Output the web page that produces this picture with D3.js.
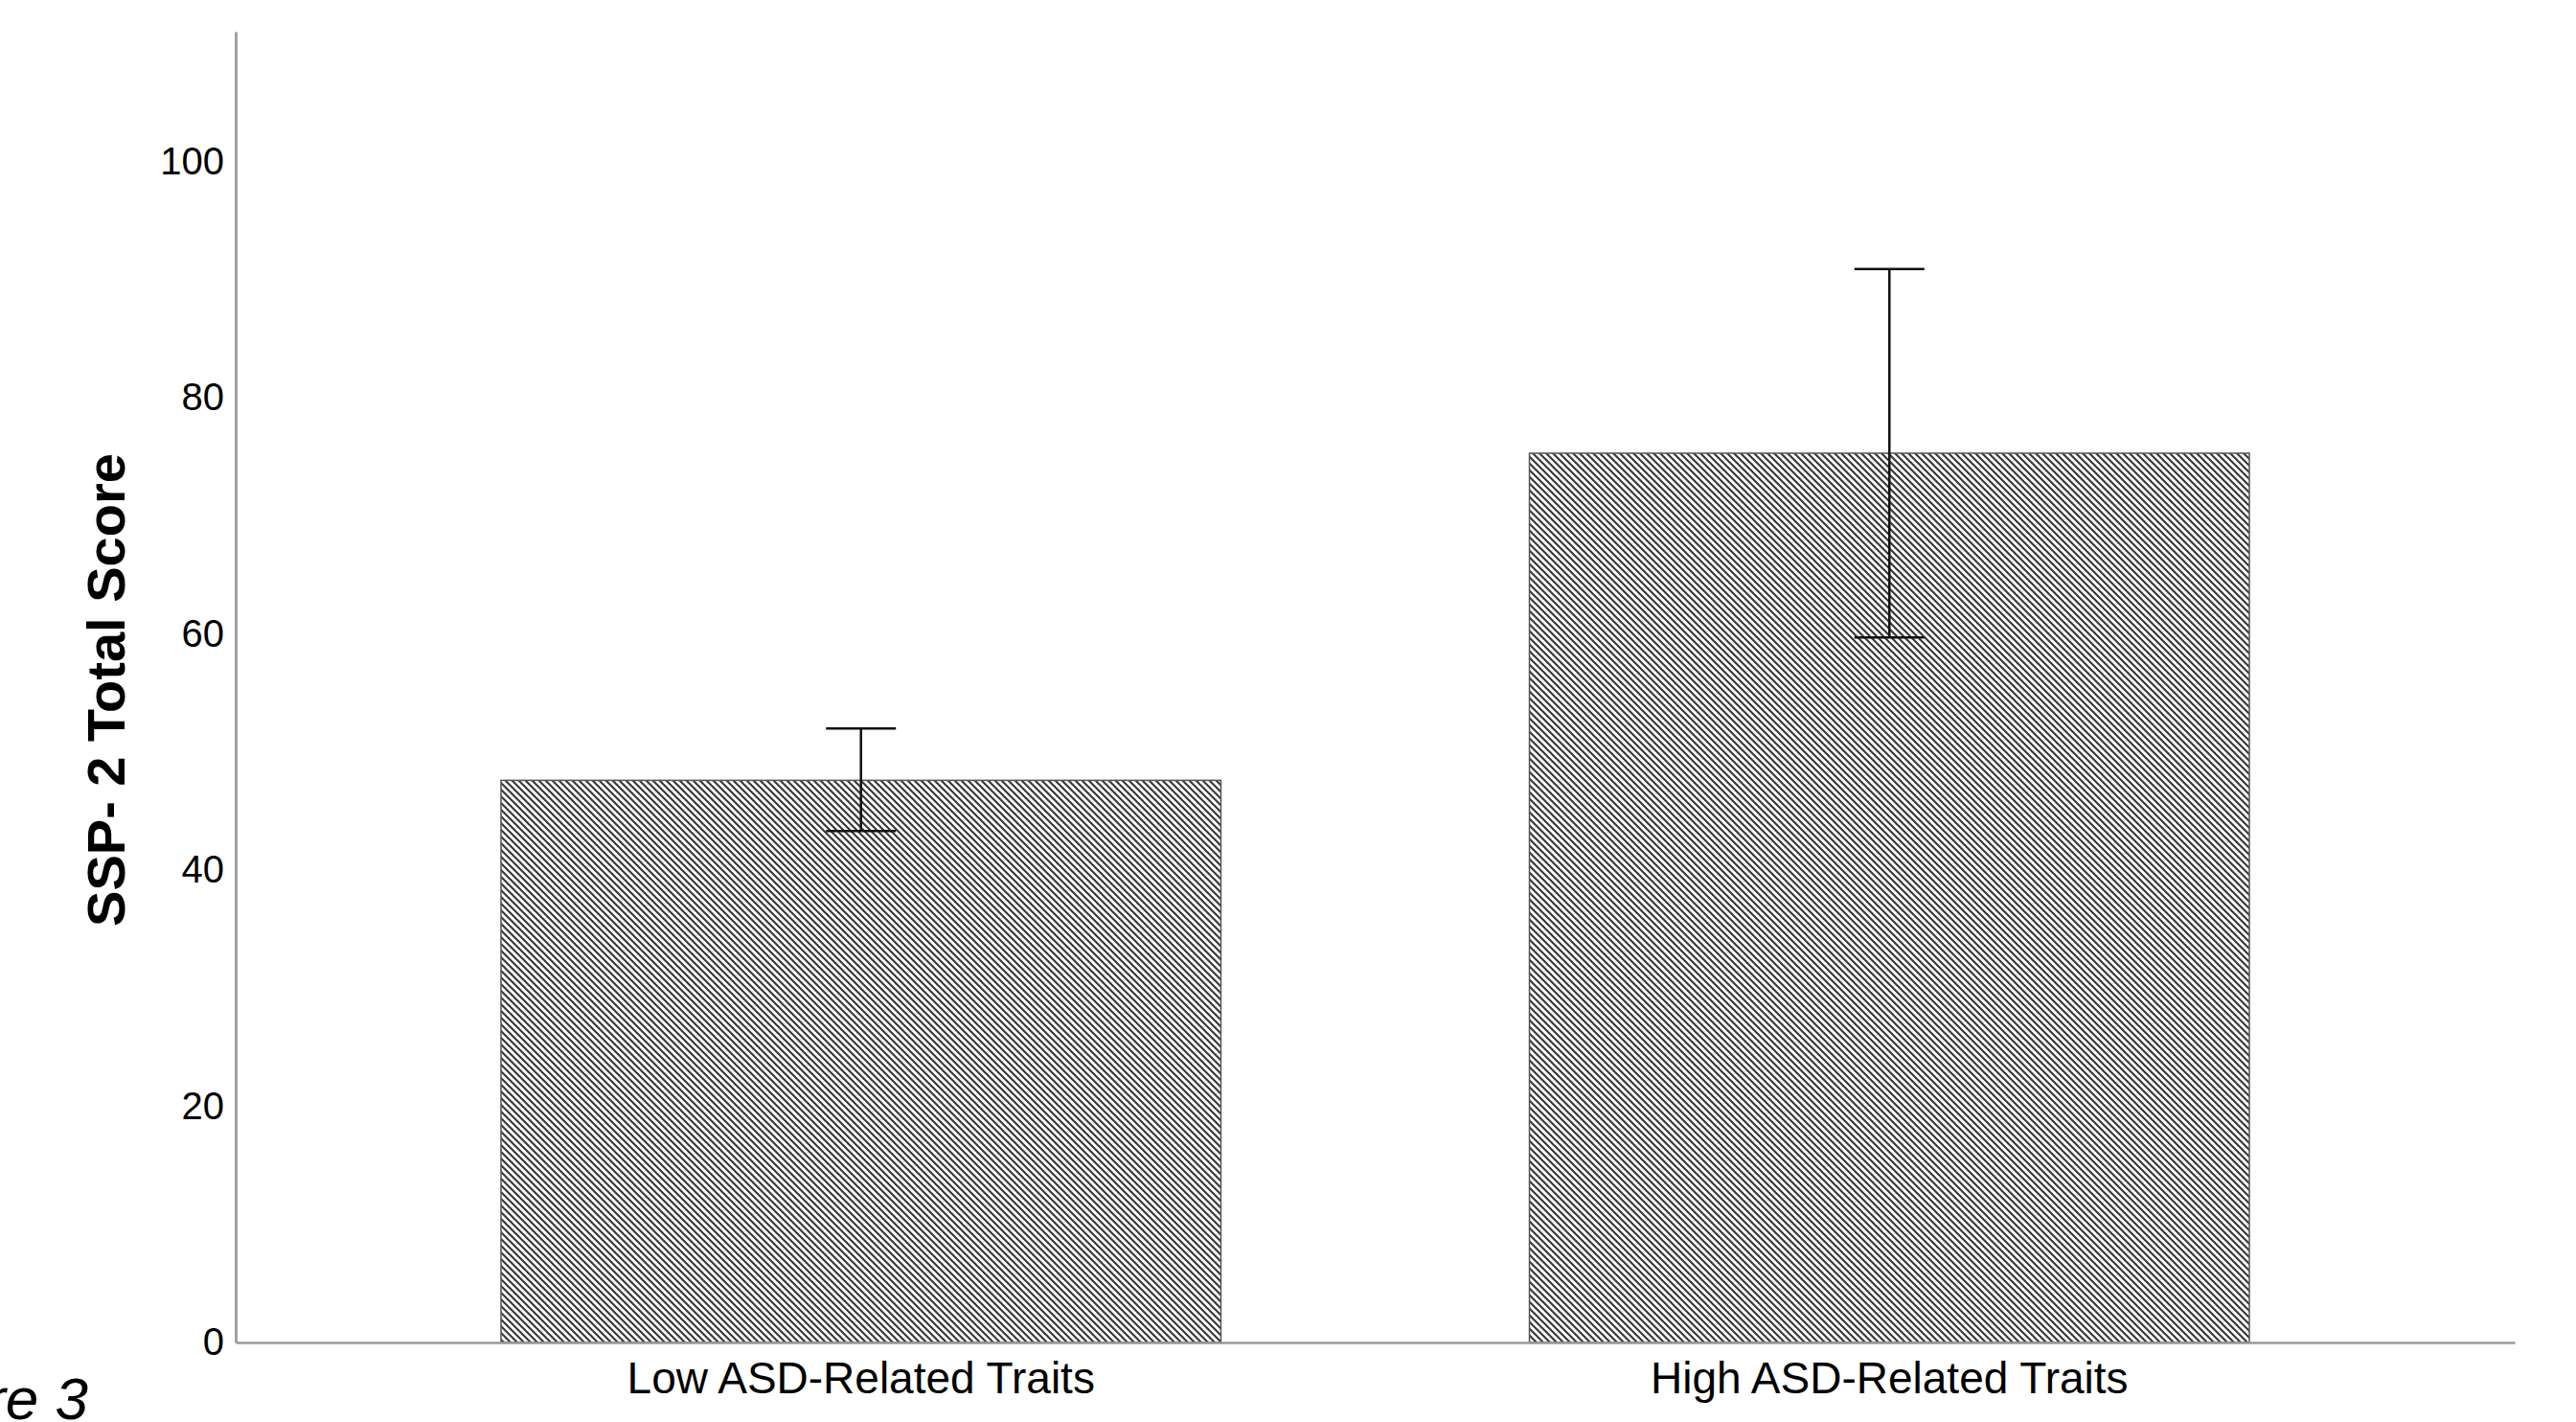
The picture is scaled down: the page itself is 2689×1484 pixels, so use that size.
<!DOCTYPE html>
<html>
<head>
<meta charset="utf-8">
<script src="https://cdn.jsdelivr.net/npm/d3@7"></script>
<style>
  html, body { margin: 0; padding: 0; background: #fff; }
  svg { display: block; }
  text { font-family: "Liberation Sans", Arial, sans-serif; fill: #000; }
</style>
</head>
<body>
<svg id="chart" width="2689" height="1484"></svg>
<script>
const categories = ["Low ASD-Related Traits", "High ASD-Related Traits"];
const means = [47.6, 75.3];
const errLow = [43.3, 59.7];
const errHigh = [52.0, 90.9];
const yTicks = [0, 20, 40, 60, 80, 100];
const yTitle = "SSP- 2 Total Score";
const caption = "Figure 3";

const W = 2689, H = 1484;
const x0 = 246, x1 = 2625, yBase = 1401, yTop = 33;

const svg = d3.select("#chart");

// hatch pattern
const defs = svg.append("defs");
const pat = defs.append("pattern")
  .attr("id", "hatch")
  .attr("patternUnits", "userSpaceOnUse")
  .attr("width", 7).attr("height", 7);
pat.append("rect").attr("width", 7).attr("height", 7).attr("fill", "#fff");
pat.append("path")
  .attr("d", "M-1,-1 L8,8 M-8,-1 L1,8 M6,-1 L15,8")
  .attr("stroke", "#3a3a3a").attr("stroke-width", 2.2);

const x = d3.scaleBand()
  .domain(categories)
  .range([x0, x1])
  .paddingInner(0.30)
  .paddingOuter(0.258);

const y = d3.scaleLinear().domain([0, 111]).range([yBase, yTop]);

// bars
svg.append("g").selectAll("rect")
  .data(categories)
  .join("rect")
  .attr("x", d => x(d))
  .attr("y", (d, i) => y(means[i]))
  .attr("width", x.bandwidth())
  .attr("height", (d, i) => y(0) - y(means[i]))
  .attr("fill", "url(#hatch)")
  .attr("stroke", "#555")
  .attr("stroke-width", 1.5);

// error bars
const capHalf = 36.5;
const eg = svg.append("g").attr("stroke", "#111").attr("stroke-width", 2.5).attr("fill", "none");
categories.forEach((c, i) => {
  const cx = x(c) + x.bandwidth() / 2;
  eg.append("line").attr("x1", cx).attr("x2", cx).attr("y1", y(errLow[i])).attr("y2", y(errHigh[i]));
  eg.append("line").attr("x1", cx - capHalf).attr("x2", cx + capHalf).attr("y1", y(errHigh[i])).attr("y2", y(errHigh[i]));
  eg.append("line").attr("x1", cx - capHalf).attr("x2", cx + capHalf).attr("y1", y(errLow[i])).attr("y2", y(errLow[i]));
});

// y axis
const yAxis = d3.axisLeft(y).tickValues(yTicks).tickSize(0).tickPadding(12).tickFormat(d3.format("d"));
const ga = svg.append("g").attr("transform", `translate(${x0},0)`).call(yAxis);
ga.select(".domain").attr("stroke", "#999").attr("stroke-width", 2.7);
ga.selectAll("text").attr("font-size", 40).attr("font-family", "Liberation Sans, Arial, sans-serif").attr("fill", "#000");

// x axis
const xAxis = d3.axisBottom(x).tickSize(0).tickPadding(20);
const gx = svg.append("g").attr("transform", `translate(0,${yBase})`).call(xAxis);
gx.select(".domain").attr("stroke", "#999").attr("stroke-width", 2.7);
gx.selectAll("text").attr("font-size", 46).attr("font-family", "Liberation Sans, Arial, sans-serif").attr("fill", "#000");

// y title
svg.append("text")
  .attr("transform", `translate(130,720) rotate(-90)`)
  .attr("text-anchor", "middle")
  .attr("font-size", 56)
  .attr("font-weight", "bold")
  .text(yTitle);

// caption (partly cut off at left, as in the reference)
svg.append("text")
  .attr("x", 92).attr("y", 1481)
  .attr("text-anchor", "end")
  .attr("font-size", 62)
  .attr("font-style", "italic")
  .text(caption);
</script>
</body>
</html>
